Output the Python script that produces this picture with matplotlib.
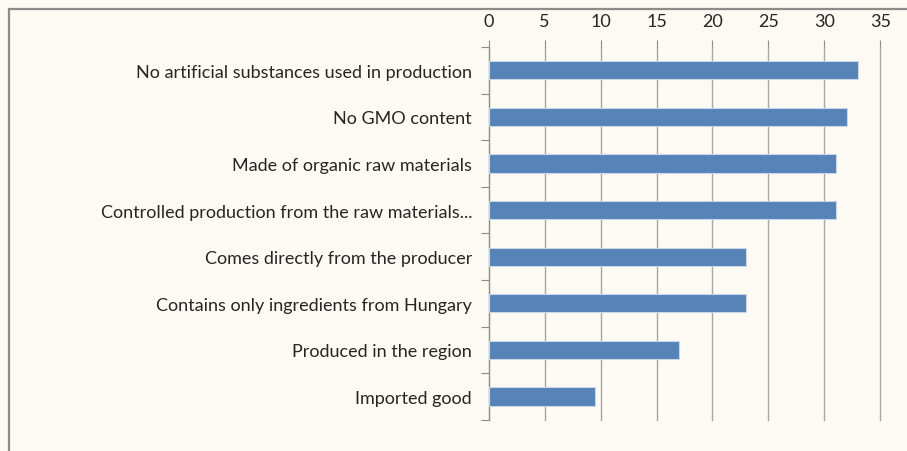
import matplotlib.pyplot as plt
from matplotlib.patches import Rectangle

# Data (top to bottom as shown)
labels = ['No artificial substances used in production',
          'No GMO content',
          'Made of organic raw materials',
          'Controlled production from the raw materials...',
          'Comes directly from the producer',
          'Contains only ingredients from Hungary',
          'Produced in the region',
          'Imported good']
values = [33, 32, 31, 31, 23, 23, 17, 9.5]
xticks = [0, 5, 10, 15, 20, 25, 30, 35]

bg = '#FDFAF3'
bar_color = '#5683B8'
text_color = '#262626'

plt.rcParams['font.family'] = ['Lato', 'DejaVu Sans']

fig = plt.figure(figsize=(9.07, 4.52), dpi=100, facecolor=bg)
ax = fig.add_axes([0.5388, 0.0692, 0.9706 - 0.5388, 0.8938 - 0.0692])
ax.set_facecolor(bg)

# outer frame
fig.patches.append(Rectangle((8.5 / 907, -0.1), 1.2, 1 - 9.5 / 452 + 0.1,
                             transform=fig.transFigure, fill=False,
                             edgecolor='#8C8C8C', linewidth=1.6))

pos = list(range(len(labels)))
ax.barh(pos, values, height=0.39, color=bar_color, edgecolor='#C9D6E8',
        linewidth=0.8, zorder=3)

ax.set_ylim(len(labels) - 0.5, -0.5)
ax.set_xlim(0, 35)

ax.xaxis.tick_top()
ax.set_xticks(xticks)
ax.set_xticklabels([str(t) for t in xticks], fontsize=13, color=text_color)
ax.tick_params(axis='x', length=5, color='#8C8C8C', pad=8)
ax.grid(axis='x', color='#A6A6A6', linewidth=1.0, zorder=0)
for gl in ax.get_xgridlines():
    gl.set_clip_on(False)

# category ticks at boundaries, labels centred on bars
ax.set_yticks([p - 0.5 for p in pos] + [len(labels) - 0.5])
ax.set_yticklabels([])
ax.set_yticks(pos, minor=True)
ax.set_yticklabels(labels, minor=True, fontsize=13, color=text_color)
ax.tick_params(axis='y', which='major', length=6, color='#8C8C8C')
ax.tick_params(axis='y', which='minor', length=0, pad=12)

for s in ['top', 'right', 'bottom']:
    ax.spines[s].set_visible(False)
ax.spines['left'].set_color('#8C8C8C')

plt.savefig('out.png', dpi=100, facecolor=bg)
